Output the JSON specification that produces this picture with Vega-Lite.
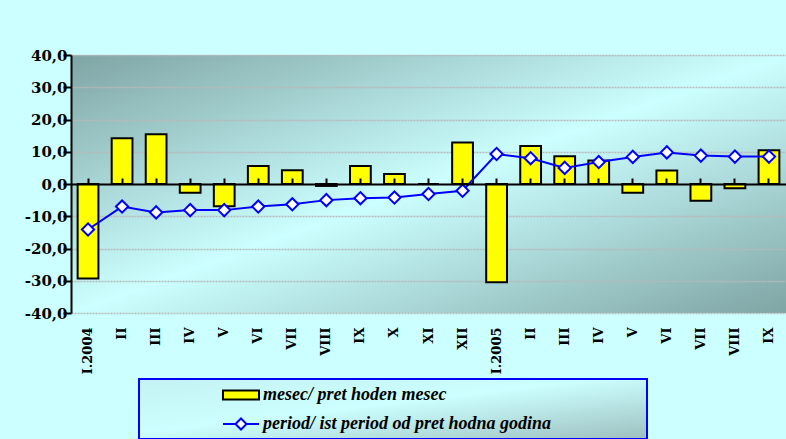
{
  "$schema": "https://vega.github.io/schema/vega-lite/v6.json",
  "width": 715,
  "height": 258,
  "autosize": {"type": "none"},
  "padding": {"left": 71, "top": 55, "right": 0, "bottom": 126},
  "background": "#CCFFFF",
  "config": {
    "view": {
      "stroke": null,
      "fill": {"gradient": "linear", "x1": 0, "y1": 0, "x2": 1, "y2": 1,
        "stops": [{"offset": 0, "color": "#7FA4A4"}, {"offset": 0.5, "color": "#CCFFFF"}, {"offset": 1, "color": "#7FA4A4"}]}
    },
    "font": "DejaVu Serif",
    "legend": {
      "orient": "none", "legendX": 68, "legendY": 324, "title": null, "direction": "vertical",
      "padding": 5, "rowPadding": 9, "symbolSize": 400, "symbolOffset": 86, "labelOffset": 11,
      "labelFont": "Liberation Serif", "labelFontStyle": "italic", "labelFontWeight": "bold", "labelFontSize": 18,
      "labelColor": "#000000", "labelLimit": 0, "strokeColor": "#0000FF",
      "symbolStrokeWidth": 2
    }
  },
  "data": {"values": [
    {"m": "I.2004", "mesec/ pret hoden mesec": -29.3, "period/ ist period od pret hodna godina": -14.1},
    {"m": "II/04", "mesec/ pret hoden mesec": 14.2, "period/ ist period od pret hodna godina": -7.0},
    {"m": "III/04", "mesec/ pret hoden mesec": 15.4, "period/ ist period od pret hodna godina": -8.8},
    {"m": "IV/04", "mesec/ pret hoden mesec": -2.7, "period/ ist period od pret hodna godina": -8.1},
    {"m": "V/04", "mesec/ pret hoden mesec": -6.9, "period/ ist period od pret hodna godina": -8.1},
    {"m": "VI/04", "mesec/ pret hoden mesec": 5.6, "period/ ist period od pret hodna godina": -7.0},
    {"m": "VII/04", "mesec/ pret hoden mesec": 4.3, "period/ ist period od pret hodna godina": -6.3},
    {"m": "VIII/04", "mesec/ pret hoden mesec": -0.6, "period/ ist period od pret hodna godina": -5.0},
    {"m": "IX/04", "mesec/ pret hoden mesec": 5.6, "period/ ist period od pret hodna godina": -4.4},
    {"m": "X/04", "mesec/ pret hoden mesec": 3.1, "period/ ist period od pret hodna godina": -4.2},
    {"m": "XI/04", "mesec/ pret hoden mesec": 0, "period/ ist period od pret hodna godina": -3.1},
    {"m": "XII/04", "mesec/ pret hoden mesec": 12.9, "period/ ist period od pret hodna godina": -2.1},
    {"m": "I.2005", "mesec/ pret hoden mesec": -30.5, "period/ ist period od pret hodna godina": 9.3},
    {"m": "II/05", "mesec/ pret hoden mesec": 11.8, "period/ ist period od pret hodna godina": 8.0},
    {"m": "III/05", "mesec/ pret hoden mesec": 8.6, "period/ ist period od pret hodna godina": 5.0},
    {"m": "IV/05", "mesec/ pret hoden mesec": 7.3, "period/ ist period od pret hodna godina": 6.8},
    {"m": "V/05", "mesec/ pret hoden mesec": -2.7, "period/ ist period od pret hodna godina": 8.4},
    {"m": "VI/05", "mesec/ pret hoden mesec": 4.2, "period/ ist period od pret hodna godina": 9.8},
    {"m": "VII/05", "mesec/ pret hoden mesec": -5.2, "period/ ist period od pret hodna godina": 8.8},
    {"m": "VIII/05", "mesec/ pret hoden mesec": -1.3, "period/ ist period od pret hodna godina": 8.5},
    {"m": "IX/05", "mesec/ pret hoden mesec": 10.5, "period/ ist period od pret hodna godina": 8.5}
  ]},
  "layer": [
    {
      "transform": [{"fold": ["mesec/ pret hoden mesec"], "as": ["series", "v"]}],
      "mark": {"type": "bar", "strokeWidth": 2},
      "encoding": {
        "x": {"field": "m", "type": "nominal", "sort": null,
          "scale": {"paddingInner": 0.39, "paddingOuter": 0.195},
          "axis": {"orient": "bottom", "title": null, "domain": false, "ticks": false, "grid": false,
            "labelAngle": -90, "labelFont": "DejaVu Serif", "labelFontWeight": "bold", "labelFontSize": 13,
            "labelPadding": 14, "labelColor": "#000000", "labelLimit": 0,
            "labelExpr": "split(datum.value, '/')[0]"}},
        "y": {"field": "v", "type": "quantitative",
          "scale": {"domain": [-40, 40], "nice": false},
          "axis": {"title": null, "values": [-40, -30, -20, -10, 0, 10, 20, 30, 40],
            "labelExpr": "(datum.value < 0 ? '-' : '') + replace(format(abs(datum.value), '.1f'), '.', ',')",
            "labelFont": "DejaVu Serif", "labelFontWeight": "bold", "labelFontSize": 15, "labelColor": "#000000",
            "labelPadding": -4, "tickSize": 8, "tickColor": "#000000", "tickWidth": 2,
            "domainColor": "#000000", "domainWidth": 2,
            "grid": true, "gridColor": "#B9B9B9", "gridDash": [2, 1], "gridWidth": 1.5}},
        "fill": {"field": "series", "type": "nominal",
          "scale": {"domain": ["mesec/ pret hoden mesec", "period/ ist period od pret hodna godina"], "range": ["#FFFF00", "#FFFFFF"]},
          "legend": {
            "labelExpr": "datum.label + '\u00a0\u00a0\u00a0\u00a0\u00a0\u00a0\u00a0\u00a0\u00a0\u00a0\u00a0\u00a0\u00a0\u00a0\u00a0\u00a0\u00a0\u00a0\u00a0\u00a0\u200b'",
            "encode": {
              "legend": {"update": {"strokeWidth": {"value": 2},
                "fill": {"value": {"gradient": "linear", "x1": 0, "y1": 0, "x2": 1, "y2": 1,
                  "stops": [{"offset": 0, "color": "#C4F2F2"}, {"offset": 0.45, "color": "#CCFFFF"}, {"offset": 1, "color": "#9DBFBF"}]}}}},
              "symbols": {"update": {
                "shape": {"signal": "datum.value == 'mesec/ pret hoden mesec' ? 'M-1.8,-0.45H1.8V0.45H-1.8Z' : 'M-1.8,0H-0.55M0.55,0H1.8M0,-0.55L0.55,0L0,0.55L-0.55,0Z'"},
                "strokeWidth": {"value": 2},
                "opacity": {"value": 1},
                "fillOpacity": {"value": 1},
                "strokeOpacity": {"value": 1}
              }}
            }
          }},
        "stroke": {"field": "series", "type": "nominal",
          "scale": {"domain": ["mesec/ pret hoden mesec", "period/ ist period od pret hodna godina"], "range": ["#000000", "#0000FF"]},
          "legend": {
            "labelExpr": "datum.label + '\u00a0\u00a0\u00a0\u00a0\u00a0\u00a0\u00a0\u00a0\u00a0\u00a0\u00a0\u00a0\u00a0\u00a0\u00a0\u00a0\u00a0\u00a0\u00a0\u00a0\u200b'",
            "encode": {
              "legend": {"update": {"strokeWidth": {"value": 2},
                "fill": {"value": {"gradient": "linear", "x1": 0, "y1": 0, "x2": 1, "y2": 1,
                  "stops": [{"offset": 0, "color": "#C4F2F2"}, {"offset": 0.45, "color": "#CCFFFF"}, {"offset": 1, "color": "#9DBFBF"}]}}}},
              "symbols": {"update": {
                "shape": {"signal": "datum.value == 'mesec/ pret hoden mesec' ? 'M-1.8,-0.45H1.8V0.45H-1.8Z' : 'M-1.8,0H-0.55M0.55,0H1.8M0,-0.55L0.55,0L0,0.55L-0.55,0Z'"},
                "strokeWidth": {"value": 2},
                "opacity": {"value": 1},
                "fillOpacity": {"value": 1},
                "strokeOpacity": {"value": 1}
              }}
            }
          }}
      }
    },
    {
      "transform": [{"fold": ["period/ ist period od pret hodna godina"], "as": ["series", "v"]}],
      "mark": {"type": "line", "strokeWidth": 2,
        "point": {"shape": "diamond", "filled": false, "fill": "#FFFFFF", "size": 150, "strokeWidth": 2}},
      "encoding": {
        "x": {"field": "m", "type": "nominal", "sort": null,
          "axis": {"orient": "top", "offset": -129, "title": null, "labels": false,
            "domain": true, "domainColor": "#000000", "domainWidth": 2,
            "ticks": true, "tickColor": "#000000", "tickWidth": 2, "tickSize": 6, "grid": false, "zindex": 1}},
        "y": {"field": "v", "type": "quantitative",
          "axis": {"title": null, "values": [-40, -30, -20, -10, 0, 10, 20, 30, 40],
            "labelExpr": "(datum.value < 0 ? '-' : '') + replace(format(abs(datum.value), '.1f'), '.', ',')",
            "labelFont": "DejaVu Serif", "labelFontWeight": "bold", "labelFontSize": 15, "labelColor": "#000000",
            "labelPadding": -4, "tickSize": 8, "tickColor": "#000000", "tickWidth": 2,
            "domainColor": "#000000", "domainWidth": 2,
            "grid": true, "gridColor": "#B9B9B9", "gridDash": [2, 1], "gridWidth": 1.5}},
        "stroke": {"field": "series", "type": "nominal",
          "legend": {
            "labelExpr": "datum.label + '\u00a0\u00a0\u00a0\u00a0\u00a0\u00a0\u00a0\u00a0\u00a0\u00a0\u00a0\u00a0\u00a0\u00a0\u00a0\u00a0\u00a0\u00a0\u00a0\u00a0\u200b'",
            "encode": {
              "legend": {"update": {"strokeWidth": {"value": 2},
                "fill": {"value": {"gradient": "linear", "x1": 0, "y1": 0, "x2": 1, "y2": 1,
                  "stops": [{"offset": 0, "color": "#C4F2F2"}, {"offset": 0.45, "color": "#CCFFFF"}, {"offset": 1, "color": "#9DBFBF"}]}}}},
              "symbols": {"update": {
                "shape": {"signal": "datum.value == 'mesec/ pret hoden mesec' ? 'M-1.8,-0.45H1.8V0.45H-1.8Z' : 'M-1.8,0H-0.55M0.55,0H1.8M0,-0.55L0.55,0L0,0.55L-0.55,0Z'"},
                "strokeWidth": {"value": 2},
                "opacity": {"value": 1},
                "fillOpacity": {"value": 1},
                "strokeOpacity": {"value": 1}
              }}
            }
          }}
      }
    }
  ],
  "resolve": {"axis": {"x": "independent"}}
}
